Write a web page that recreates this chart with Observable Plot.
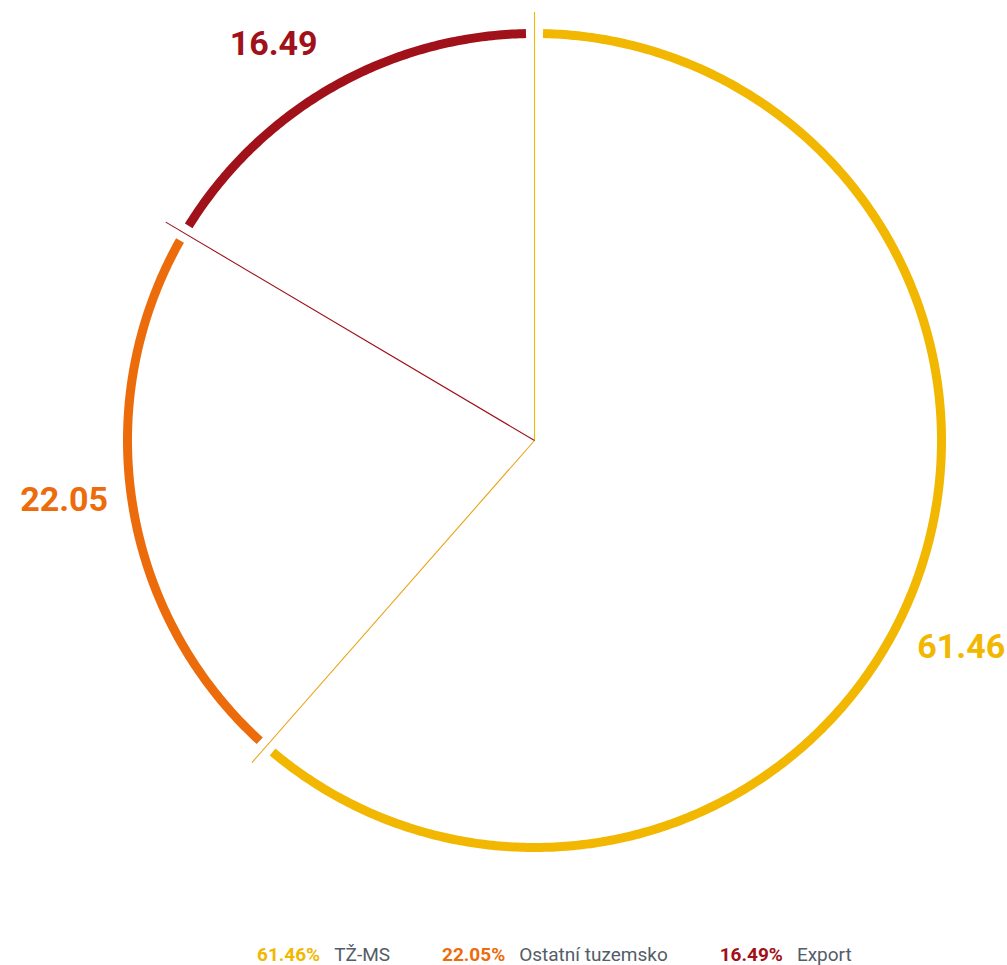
<!DOCTYPE html>
<html>
<head>
<meta charset="utf-8">
<script src="https://cdn.jsdelivr.net/npm/d3@7"></script>
<script src="https://cdn.jsdelivr.net/npm/@observablehq/plot@0.6"></script>
<style>
  body { margin: 0; background: #fff; }
  #legend { display: flex; align-items: center; height: 35px; margin-top: 7px; padding-left: 257px;
    font-family: Roboto, "Noto Sans", sans-serif; font-size: 19px; }
  #legend .item { display: flex; align-items: center; margin-right: 52px; }
  #legend .val { font-weight: 700; margin-right: 14px; }
  #legend .lab { color: #535d67; }
</style>
</head>
<body>
<div id="chart"></div>
<div id="legend"></div>
<script>
const categories = ["TŽ-MS", "Ostatní tuzemsko", "Export"];
const values = [61.46, 22.05, 16.49];
const valueLabels = ["61.46", "22.05", "16.49"];
const legendLabels = ["61.46%", "22.05%", "16.49%"];
const colors = ["#f2b700", "#ec6c0c", "#a0111a"];

const W = 1007, H = 930;
const R = 1;            // ring radius (unit)
const pad = 1.2;        // degrees trimmed at arc ends
const total = d3.sum(values);

// slices with angles (clockwise from top)
let acc = 0;
const slices = categories.map((c, i) => {
  const a0 = acc / total * 360;
  acc += values[i];
  const a1 = acc / total * 360;
  return {cat: c, value: values[i], label: valueLabels[i], color: colors[i], a0, a1, mid: (a0 + a1) / 2};
});
const rad = a => a * Math.PI / 180;
const px = (a, r) => r * Math.sin(rad(a));
const py = (a, r) => r * Math.cos(rad(a));

// arc polylines
const arcPts = [];
for (const s of slices) {
  const n = Math.ceil((s.a1 - s.a0) * 2);
  for (let k = 0; k <= n; k++) {
    const a = (s.a0 + pad) + (s.a1 - s.a0 - 2 * pad) * k / n;
    arcPts.push({cat: s.cat, x: px(a, R), y: py(a, R)});
  }
}

// radial edge lines
const edges = [
  {a: slices[0].a0, color: colors[0]},
  {a: slices[1].a0, color: "#e8a212"},
  {a: slices[2].a0, color: colors[2]}
];
const edgeR = 1.053;

// labels: placed outside the ring near each slice's middle angle (layout nudge in degrees)
const labelR = 1.165;
const labelNudge = [5.2, 1.8, -3.7];
const labels = slices.map((s, i) => ({...s, x: px(s.mid + labelNudge[i], labelR), y: py(s.mid + labelNudge[i], labelR)}));

const rPx = 407, cx = 534, cy = 440;
const chart = Plot.plot({
  width: W, height: H,
  margin: 0,
  x: {domain: [-cx / rPx, (W - cx) / rPx], range: [0, W], axis: null},
  y: {domain: [-(H - cy) / rPx, cy / rPx], range: [H, 0], axis: null},
  color: {domain: categories, range: colors},
  style: {background: "#fff"},
  marks: [
    Plot.link(edges, {x1: 0, y1: 0, x2: d => px(d.a, edgeR), y2: d => py(d.a, edgeR),
      stroke: d => d.color, strokeWidth: 1.1}),
    Plot.line(arcPts, {x: "x", y: "y", z: "cat", stroke: "cat", strokeWidth: 9, strokeLinecap: "butt", curve: "linear"}),
    Plot.text(labels, {x: "x", y: "y", text: "label", fill: "cat", fontSize: 34, fontWeight: 700,
      fontFamily: "Roboto, sans-serif", textAnchor: "middle", lineAnchor: "middle"})
  ]
});
document.getElementById("chart").appendChild(chart);

const legend = document.getElementById("legend");
categories.forEach((c, i) => {
  const item = document.createElement("div");
  item.className = "item";
  item.innerHTML = `<span class="val" style="color:${colors[i]}">${legendLabels[i]}</span><span class="lab">${c}</span>`;
  legend.appendChild(item);
});
</script>
</body>
</html>
